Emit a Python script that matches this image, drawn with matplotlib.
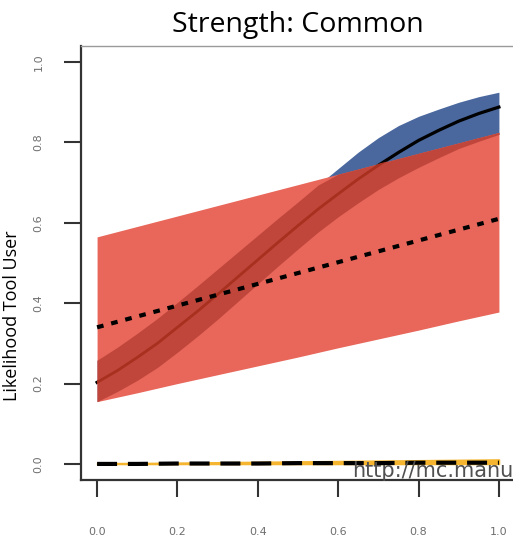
import numpy as np
import matplotlib
matplotlib.use("Agg")
import matplotlib.pyplot as plt

# predictor grid for the curved fit
x_fine = [0.00, 0.05, 0.10, 0.15, 0.20, 0.25, 0.30, 0.35, 0.40, 0.45, 0.50,
          0.55, 0.60, 0.65, 0.70, 0.75, 0.80, 0.85, 0.90, 0.95, 1.00]

# common strength, full model (black line, blue band)
common_fit = [0.203, 0.232, 0.265, 0.300, 0.340, 0.380, 0.422, 0.465, 0.508, 0.551, 0.593,
              0.634, 0.672, 0.709, 0.743, 0.775, 0.805, 0.830, 0.853, 0.872, 0.888]
common_lo = [0.155, 0.180, 0.208, 0.240, 0.278, 0.318, 0.360, 0.404, 0.448, 0.492, 0.535,
             0.577, 0.615, 0.650, 0.683, 0.712, 0.738, 0.762, 0.785, 0.803, 0.820]
common_hi = [0.258, 0.290, 0.325, 0.362, 0.402, 0.443, 0.485, 0.527, 0.569, 0.611, 0.652,
             0.694, 0.735, 0.776, 0.812, 0.842, 0.865, 0.883, 0.900, 0.914, 0.925]

# grid for the straight fits
x_pts = [0.0, 0.1, 0.2, 0.3, 0.4, 0.5, 0.6, 0.7, 0.8, 0.9, 1.0]

# reduced model (dotted line, red band)
reduced_fit = [0.340, 0.367, 0.394, 0.421, 0.448, 0.475, 0.502, 0.529, 0.556, 0.583, 0.610]
reduced_lo = [0.155, 0.177, 0.200, 0.222, 0.244, 0.266, 0.289, 0.311, 0.333, 0.356, 0.378]
reduced_hi = [0.565, 0.591, 0.617, 0.643, 0.669, 0.695, 0.721, 0.747, 0.773, 0.799, 0.825]

# absent strength (dashed line, yellow band)
absent_fit = [0.000, 0.000, 0.001, 0.001, 0.001, 0.002, 0.002, 0.002, 0.003, 0.003, 0.003]
absent_lo = [0.000, 0.000, 0.000, 0.000, 0.000, 0.000, 0.000, 0.000, 0.000, 0.000, 0.000]
absent_hi = [0.002, 0.002, 0.003, 0.004, 0.005, 0.006, 0.007, 0.008, 0.009, 0.010, 0.011]

ticks = [0.0, 0.2, 0.4, 0.6, 0.8, 1.0]
tick_labels = ["0.0", "0.2", "0.4", "0.6", "0.8", "1.0"]

fig = plt.figure(figsize=(5.13, 5.39), dpi=100)
ax = fig.add_axes([81 / 513, 59 / 539, 434 / 513, 434 / 539])

xf = np.array(x_fine)
xl = np.array(x_pts)

# blue band and black fit line
ax.fill_between(xf, common_lo, common_hi, color="#4a689e", linewidth=0, zorder=1)
ax.plot(xf, common_fit, color="black", lw=2.3, zorder=2)

# red band over it
red = ax.fill_between(xl, reduced_lo, reduced_hi, color="#e8675a", linewidth=0, zorder=3)

# where the bands overlap the colour darkens
red_lo_f = np.interp(xf, xl, reduced_lo)
red_hi_f = np.interp(xf, xl, reduced_hi)
ov_lo = np.maximum(common_lo, red_lo_f)
ov_hi = np.minimum(common_hi, red_hi_f)
ax.fill_between(xf, ov_lo, ov_hi, where=ov_hi > ov_lo, interpolate=True,
                color="#c0463c", linewidth=0, zorder=4)
inner, = ax.plot(xf, common_fit, color="#a8301e", lw=2.0, zorder=5)
inner.set_clip_path(red.get_paths()[0], ax.transData)

ax.plot(xl, reduced_fit, color="black", lw=3, dashes=(1.6, 1.9), zorder=6)

# absent line along zero
ax.fill_between(xl, absent_lo, absent_hi, color="#f5b52e", edgecolor="#f5b52e",
                linewidth=1.2, zorder=6)
ax.plot(xl, absent_fit, color="black", lw=3, dashes=(4.8, 2.6), zorder=7)

ax.set_xlim(-0.04, 1.04)
ax.set_ylim(-0.04, 1.04)

ax.set_xticks(ticks)
ax.set_xticklabels(tick_labels)
ax.set_yticks(ticks)
ax.set_yticklabels(tick_labels, rotation=90, va="center")
ax.tick_params(axis="both", direction="out", length=12, width=1.5, color="#333333",
               labelsize=8, labelcolor="#6e6e6e")
ax.tick_params(axis="x", pad=22)
ax.tick_params(axis="y", pad=15)

for side in ["left", "bottom"]:
    ax.spines[side].set_color("#333333")
    ax.spines[side].set_linewidth(1.6)
for side in ["top", "right"]:
    ax.spines[side].set_color("#9a9a9a")
    ax.spines[side].set_linewidth(1.0)

fig.text(298 / 513, 1 - 32 / 539, "Strength: Common", family="Open Sans",
         fontsize=20.5, ha="center", va="baseline", color="black")
fig.text(12 / 513, 1 - 316 / 539, "Likelihood Tool User", family="Open Sans",
         fontsize=13, rotation=90, ha="center", va="center", color="black")

fig.text(352 / 513, 1 - 477 / 539, "http://mc.manuscriptcentral.com", family="DejaVu Sans",
         fontsize=15, color="#505050", ha="left", va="baseline", zorder=10)

fig.savefig("out.png", dpi=100)
